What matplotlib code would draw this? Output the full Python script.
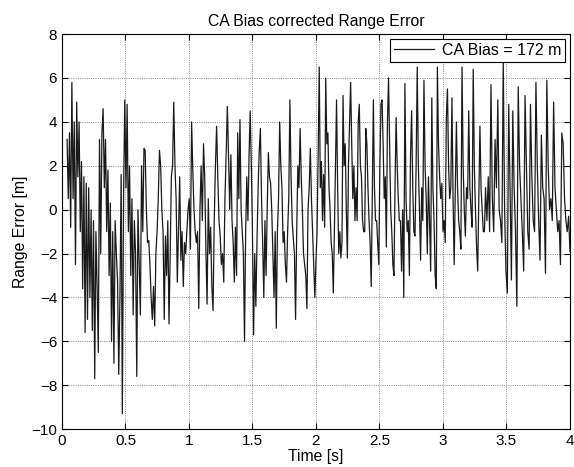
import numpy as np
import matplotlib
matplotlib.use("Agg")
import matplotlib.pyplot as plt

plt.rcParams['font.family'] = ['Liberation Sans', 'DejaVu Sans']

# segment edges in seconds
seg_edges = [0.04, 0.655, 1.33, 2.0, 2.665, 3.335, 4.0]

seg1 = [3.2, 0.5, 3.5, -0.8, 5.8, 0.5, 4.0, -2.5, 4.9, 1.5, 4.0, -1.0, 2.2, -3.6,
        1.5, -5.6, 1.2, -5.0, 1.0, -4.0, 0.0, -5.5, -0.5, -7.7, -1.0, -3.5, -6.5,
        3.2, -2.0, 3.5, 4.6, 1.0, 3.2, -1.0, 1.8, -3.0, 0.3, -6.0, -1.0, -7.0,
        -0.5, -2.0, -3.2, -7.5, -4.0, 1.6, -9.3, 0.5, 5.0, 1.0, 4.8, -1.0, 2.0,
        -3.0, 0.5, -4.8, -0.5, -2.0, -7.6, 0.0, -2.5, -4.8, 2.0, -1.0, 2.8]

seg2 = [2.7, 0.0, -1.5, -1.4, -2.5, -4.0, -5.0, -3.5, -5.3, -2.0, -1.0, 0.5, 2.7,
        2.0, 0.0, -1.0, -5.0, -1.2, -3.0, -0.5, -5.2, -2.0, 1.5, 2.0, 4.9, 2.0,
        0.5, -3.3, -0.8, 1.5, -2.3, -1.0, -3.5, -1.5, -2.0, -1.0, 0.0, 0.5, -1.8,
        4.0, 1.8, 0.0, -1.0, -1.5, -1.0, -4.5, 0.0, 2.0, -0.5, 3.0, 1.5, -1.8,
        -4.3, 0.5, -2.0, -0.8, -3.5, -4.6, -0.5, 2.0, 3.8, 1.5, -0.5, -1.2, -2.5,
        -2.0, -3.3, 0.5, 2.5, 4.7, 2.5, 0.0]

seg3 = [2.5, -0.5, -1.5, -3.3, -0.8, -3.0, 3.5, 0.5, 4.1, 0.0, -1.0, -2.0, -6.0,
        -1.0, 1.5, -0.5, 2.5, 4.5, 2.0, -1.0, -5.7, -2.0, -4.4, -1.5, 1.0, 2.7,
        3.7, 0.5, -1.5, -4.0, -0.5, -3.0, 0.0, 2.6, 1.5, 1.2, 0.0, -2.0, -4.0,
        -1.0, -5.4, -1.0, 0.5, 4.0, 2.0, 1.0, -1.5, -1.0, -2.5, -3.3, -1.0, 0.5,
        5.0, 1.5, -0.5, -1.3, -2.0, -5.0, -1.0, 2.0, 1.0, 3.7, 1.5, 0.0, -2.0,
        -2.5, -3.0, -4.5, 0.0, 1.0, 2.8, 0.5, -1.0, -2.5, -4.0]

seg4 = [-2.3, -1.0, 2.5, 6.5, 1.0, 2.2, -0.5, 1.6, -0.8, 6.0, 3.0, 3.5, 1.0, 0.0,
        -1.5, -2.0, -3.8, -1.0, 2.0, 5.0, 1.0, -2.0, -1.0, -2.2, -1.5, 5.2, 2.0,
        3.0, 0.0, -2.2, 2.0, 4.0, 5.8, 3.0, 0.5, 2.0, -0.5, 1.0, -0.5, 4.0, 4.8,
        2.0, 1.5, -0.5, -1.0, -1.0, 3.7, 3.0, 1.0, -0.5, -1.5, -3.5, 0.5, 5.0,
        1.0, -0.5, -0.5, -1.5, -2.5, 2.0, 4.8, 5.0, 3.0, 0.5, 1.5, -1.7, 4.0,
        6.0, 3.0, 0.0, -1.0, -2.5, -3.0, 1.0, 4.2, 2.0, 0.5, -0.5]

seg5 = [-0.5, -2.8, 0.0, -4.0, 5.75, 0.5, -1.0, -0.5, -3.0, 2.5, 4.5, 1.0, -1.0,
        -1.2, 2.0, 6.5, 2.0, 0.0, -2.3, 1.0, -0.5, 5.9, 2.0, 0.5, -2.0, 1.5, -0.5,
        -2.8, 5.1, 1.0, -0.5, -3.0, -3.6, 6.5, 3.0, 1.5, 0.5, 1.2, -1.0, -0.5,
        -1.5, 4.2, 5.5, 2.0, 0.5, 1.0, 5.1, 0.5, -2.5, 1.0, 4.0, 1.0, -0.5, -1.0,
        -1.8, 6.5, 2.0, 0.0, -1.2, 1.0, 0.5, 4.5, 1.0, 0.0, -0.8, 6.4, 2.0, 0.0,
        -1.7, -2.8, 0.5, 3.8, 1.0, 0.0, -1.0, -1.0]

seg6 = [1.0, -0.5, 1.5, -1.0, 5.7, 0.5, -1.0, 3.2, 1.0, 5.0, 0.0, -0.5, -1.5,
        6.8, 0.0, -2.8, -3.8, 4.8, 1.0, -3.2, 4.5, 1.0, -1.0, -4.4, 5.6, 2.0, 0.5,
        -1.0, -2.8, 5.2, 2.0, -1.0, -1.8, 4.8, 1.5, -0.5, -1.0, 5.8, 2.0, -0.5,
        -2.3, 3.4, 1.0, 0.5, -2.9, 5.9, 2.0, 0.0, 0.5, -0.5, 4.9, 1.0, 0.0, -1.0,
        -0.5, -2.5, 3.5, 3.0, 0.5, -0.5, -1.0, -0.3, -1.9]

segments = [seg1, seg2, seg3, seg4, seg5, seg6]

t_parts = []
for i, vals in enumerate(segments):
    last = (i == len(segments) - 1)
    t_parts.append(np.linspace(seg_edges[i], seg_edges[i + 1], len(vals), endpoint=last))
time = np.concatenate(t_parts)
err = np.concatenate([np.array(s) for s in segments])

fig = plt.figure(figsize=(5.74, 4.67), dpi=100)
ax = fig.add_axes([0.108, 0.081, 0.885, 0.846])

ax.plot(time, err, color='#1a1a1a', linewidth=0.9, label='CA Bias = 172 m')

ax.set_xlim(0, 4)
ax.set_ylim(-10, 8)
ax.set_xticks(np.arange(0, 4.01, 0.5))
ax.set_xticklabels(['0', '0.5', '1', '1.5', '2', '2.5', '3', '3.5', '4'])
ax.set_yticks(np.arange(-10, 8.1, 2))
ax.grid(True, linestyle=':', color='black', linewidth=0.6, alpha=0.6)
ax.tick_params(direction='in', top=True, right=True, labelsize=11, length=4)
for sp in ax.spines.values():
    sp.set_linewidth(0.8)

ax.set_title('CA Bias corrected Range Error', fontsize=11.3, pad=6)
ax.set_xlabel('Time [s]', fontsize=11.3, labelpad=1)
ax.set_ylabel('Range Error [m]', fontsize=11.3, labelpad=2)

leg = ax.legend(loc='upper right', fontsize=11.5, fancybox=False, framealpha=1,
                edgecolor='black', handlelength=2.5, handletextpad=0.5,
                borderaxespad=0.3, borderpad=0.25)
leg.get_frame().set_linewidth(0.8)

fig.savefig('out.png', dpi=100)
